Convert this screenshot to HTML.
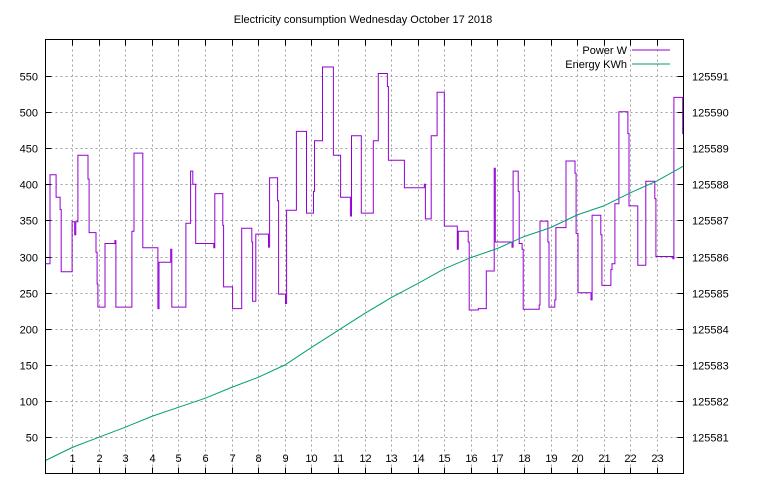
<!DOCTYPE html>
<html><head><meta charset="utf-8"><style>
body{margin:0;background:#fff}
svg{display:block;font-family:"Liberation Sans",sans-serif;font-size:11px}
</style></head><body>
<svg id="chart" width="768" height="500" xmlns="http://www.w3.org/2000/svg">
<text x="363" y="23" text-anchor="middle" fill="#000">Electricity consumption Wednesday October 17 2018</text>
<g id="grid"></g>
<g id="axes"></g>
<g id="series"></g>
<g>
<text x="627" y="54" text-anchor="end">Power W</text>
<line x1="632" y1="50" x2="670" y2="50" stroke="#9400d3" stroke-width="1"/>
<text x="627" y="68" text-anchor="end">Energy KWh</text>
<line x1="632" y1="64" x2="670" y2="64" stroke="#009e73" stroke-width="1"/>
</g>
<rect x="45.5" y="39.5" width="638" height="434" fill="none" stroke="#000"/>
</svg>
<script>
const xTicks=[1,2,3,4,5,6,7,8,9,10,11,12,13,14,15,16,17,18,19,20,21,22,23];
const yTicks=[50,100,150,200,250,300,350,400,450,500,550];
const y2Ticks=[125581,125582,125583,125584,125585,125586,125587,125588,125589,125590,125591];
const powerHours=[0,0.17,0.40,0.55,0.59,1.0,1.10,1.14,1.22,1.60,1.64,1.90,1.94,1.97,2.24,2.61,2.65,3.25,3.33,3.66,4.23,4.27,4.71,4.75,5.28,5.46,5.54,5.65,6.33,6.37,6.67,6.70,7.04,7.38,7.76,7.79,7.91,8.39,8.43,8.73,8.77,9.03,9.07,9.44,9.82,10.08,10.12,10.42,10.83,11.10,11.47,11.51,11.88,12.33,12.52,12.86,12.90,13.50,14.25,14.29,14.51,14.73,15.0,15.49,15.53,15.90,15.94,16.28,16.58,16.88,16.92,17.55,17.59,17.78,17.82,17.93,17.97,18.57,18.60,18.90,18.94,19.16,19.20,19.58,19.92,19.96,20.03,20.52,20.56,20.89,20.93,21.27,21.31,21.42,21.57,21.91,21.95,22.28,22.58,22.92,22.96,23.60,23.64,23.97];
const powerWatts=[290,413,382,365,279,348,330,348,440,407,333,306,262,230,318,322,230,335,443,312,228,292,310,230,346,418,400,318,312,387,343,258,228,339,320,238,331,313,409,377,248,235,364,473,360,390,460,562,440,382,356,467,360,460,553,535,433,395,400,352,467,527,342,310,335,320,226,228,280,422,320,313,418,390,318,310,227,233,349,320,230,240,340,432,415,332,250,240,357,330,260,282,290,373,500,470,370,288,404,380,300,297,520,470];
const energyHours=[0,1,2,3,4,5,6,7,8,9,10,11,12,13,14,15,16,17,18,19,20,21,22,23,24];
const energyKWh=[125580.36,125580.72,125581.0,125581.28,125581.58,125581.83,125582.08,125582.38,125582.66,125583.0,125583.48,125583.95,125584.42,125584.86,125585.25,125585.66,125585.97,125586.22,125586.55,125586.8,125587.15,125587.4,125587.76,125588.09,125588.5];

const NS="http://www.w3.org/2000/svg";
const L=45.5,R=683.5,T=39.5,B=473.5;
const xs=h=>L+(h/24)*(R-L);
const ys=w=>B-(w/600)*(B-T);
const y2s=e=>B-((e-125580)/12)*(B-T);
function mk(tag,attrs,parent){const e=document.createElementNS(NS,tag);for(const k in attrs)e.setAttribute(k,attrs[k]);parent.appendChild(e);return e;}
const grid=document.getElementById('grid'),axes=document.getElementById('axes'),series=document.getElementById('series');
xTicks.forEach(h=>{const x=Math.round(xs(h))+0.5;
 const g=mk('line',{x1:x,y1:T,x2:x,y2:B,stroke:'#a0a0a0','stroke-dasharray':'2,3'},grid);
 
 
 const t1=mk('line',{x1:x,y1:B,x2:x,y2:B-6,stroke:'#000'},axes);
 
 
 const t2=mk('line',{x1:x,y1:T,x2:x,y2:T+6,stroke:'#000'},axes);
 
 
 const lb=mk('text',{x:x,y:462,'text-anchor':'middle'},axes);lb.textContent=h;
 
 
});
yTicks.forEach(w=>{const y=Math.round(ys(w))+0.5;
 const g=mk('line',{x1:L,y1:y,x2:R,y2:y,stroke:'#a0a0a0','stroke-dasharray':'2,3'},grid);
 
 
 const t=mk('line',{x1:L,y1:y,x2:L+6,y2:y,stroke:'#000'},axes);
 
 
 const lb=mk('text',{x:38,y:y+4,'text-anchor':'end'},axes);lb.textContent=w;
 
 
});
y2Ticks.forEach(e=>{const y=Math.round(y2s(e))+0.5;
 const t=mk('line',{x1:R-6,y1:y,x2:R,y2:y,stroke:'#000'},axes);
 
 
 const lb=mk('text',{x:692,y:y+4,'text-anchor':'start'},axes);lb.textContent=e;
 
 
});
let d='';
powerHours.forEach((h,i)=>{const x=xs(h).toFixed(1),y=ys(powerWatts[i]).toFixed(1);
 if(i===0)d+=`M${x},${y}`;else d+=`H${x}V${y}`;});
d+=`H${xs(24).toFixed(1)}`;
const pp=mk('path',{d:d,fill:'none',stroke:'#9400d3','stroke-width':1},series);


const ep=mk('polyline',{points:energyHours.map((h,i)=>xs(h).toFixed(1)+','+y2s(energyKWh[i]).toFixed(1)).join(' '),fill:'none',stroke:'#009e73','stroke-width':1},series);


</script>
</body></html>
